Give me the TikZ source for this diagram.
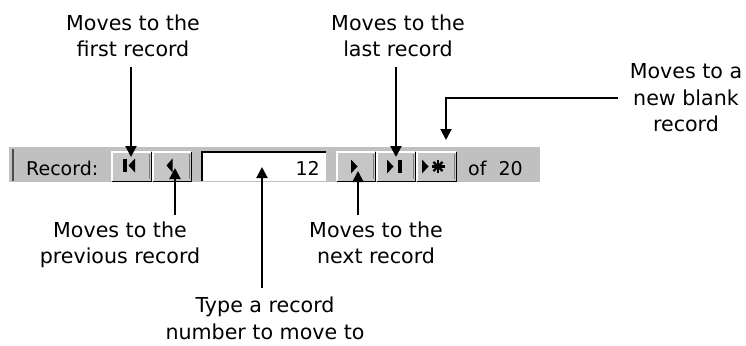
\documentclass[tikz,border=0pt]{standalone}
\usepackage{fontspec}
\setmainfont{DejaVu Sans}
\usetikzlibrary{arrows.meta}
\definecolor{bargray}{HTML}{C0C0C0}
\definecolor{btnface}{HTML}{C6C6C6}
\definecolor{btndark}{HTML}{808080}
\tikzset{
  lbl/.style={align=center, inner sep=0pt, font=\fontsize{20.6}{26.5}\selectfont},
  bartext/.style={inner sep=0pt, font=\fontsize{19}{26}\selectfont},
  arr/.style={line width=2pt, -{Triangle[width=11pt,length=11pt]}},
  btn/.style={rectangle, fill=btnface, inner sep=0pt, minimum height=29pt},
  icon/.style={fill=black, draw=none}
}
\begin{document}
\begin{tikzpicture}[x=1pt,y=-1pt]
\useasboundingbox (0,0) rectangle (746,345);
% bar
\fill[bargray] (9,147) rectangle (540,182);
\draw[line width=2pt, btndark!60!black] (13,149) -- (13,181);
\node[bartext, anchor=west] (rec) at (26,168) {Record:};
% buttons
\node[btn, minimum width=39pt, anchor=north west] (bFirst) at (112,152) {};
\node[btn, minimum width=38pt, anchor=north west] (bPrev) at (153,152) {};
\node[btn, minimum width=38pt, anchor=north west] (bNext) at (337,152) {};
\node[btn, minimum width=38pt, anchor=north west] (bLast) at (377,152) {};
\node[btn, minimum width=39pt, anchor=north west] (bNew) at (417,152) {};
\foreach \b in {bFirst,bPrev,bNext,bLast,bNew}{
  \draw[white, line width=1.5pt] (\b.south west) -- (\b.north west) -- (\b.north east);
  \draw[btndark, line width=1pt] ([shift={(-2,-2)}]\b.south east) -- ([shift={(-2,2)}]\b.north east);
  \draw[black, line width=1.5pt] (\b.north east) -- (\b.south east) -- (\b.south west);
}
% text box
\node[rectangle, fill=white, inner sep=0pt, minimum width=124pt, minimum height=29pt, anchor=north west] (box) at (202,152) {};
\draw[black, line width=2.5pt] (box.south west) -- (box.north west) -- (box.north east);
\node[bartext, anchor=east] (num) at (320,168) {12};
\node[bartext, anchor=west] (of) at (468,168) {of\ \ 20};
% icons
\fill[icon] (123,159) rectangle (127,172);
\fill[icon] (128.5,165.5) -- (135,158.5) -- (135,172.5) -- cycle;
\fill[icon] (166.5,165.5) -- (172.5,158.5) -- (172.5,172.5) -- cycle;
\fill[icon] (357.5,166.5) -- (351,159.5) -- (351,173.5) -- cycle;
\fill[icon] (393.5,166.5) -- (387,159.5) -- (387,173.5) -- cycle;
\fill[icon] (397.5,160) rectangle (402,173);
\fill[icon] (428.5,166.5) -- (422,159.5) -- (422,173.5) -- cycle;
\foreach \a in {0,45,90,135}{
  \draw[line width=2.2pt] (438,166.5) ++(\a:6.5) -- ++(\a+180:13);
}
% labels
\node[lbl] (tFirst) at (133,36) {Moves to the\\first record};
\node[lbl] (tLast) at (398,36) {Moves to the\\last record};
\node[lbl] (tNew) at (686,98) {Moves to a\\new blank\\record};
\node[lbl] (tPrev) at (120,245) {Moves to the\\previous record};
\node[lbl] (tNext) at (376,243) {Moves to the\\next record};
\node[lbl] (tType) at (265,318.5) {Type a record\\number to move to};
% arrow targets
\coordinate (pFirst) at (131,157);
\coordinate (pLast) at (396,157);
\coordinate (pNew) at (446,140);
\coordinate (pPrev) at (175,168);
\coordinate (pNext) at (358,171);
\coordinate (pType) at (262,167);
% arrows
\draw[arr, shorten <=10pt] (tFirst.south -| pFirst) -- (pFirst);
\draw[arr, shorten <=10pt] (tLast.south -| pLast) -- (pLast);
\draw[arr, shorten <=12pt] (tNew.west) -| (pNew);
\draw[arr, shorten <=6.5pt] (tPrev.north -| pPrev) -- (pPrev);
\draw[arr, shorten <=6.5pt] (tNext.north -| pNext) -- (pNext);
\draw[arr, shorten <=9.5pt] (tType.north -| pType) -- (pType);
\end{tikzpicture}
\end{document}
